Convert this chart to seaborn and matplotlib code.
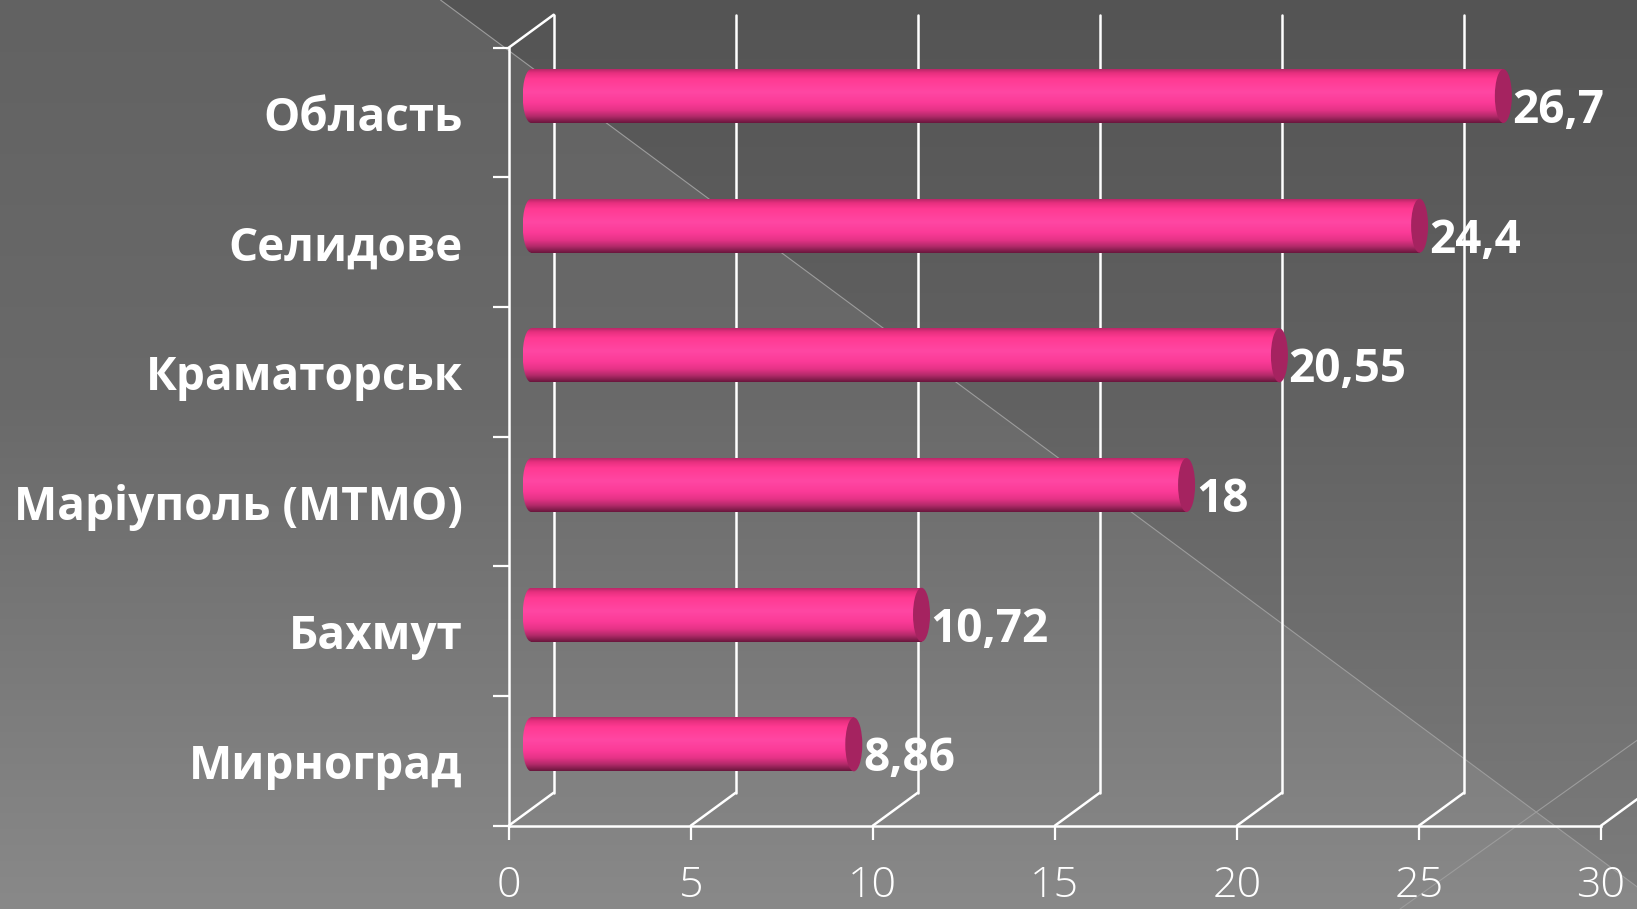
import numpy as np
import matplotlib.pyplot as plt
from matplotlib.patches import Ellipse
from matplotlib.colors import LinearSegmentedColormap
import seaborn as sns

categories = ["Область", "Селидове", "Краматорськ", "Маріуполь (МТМО)", "Бахмут", "Мирноград"]
values = [26.7, 24.4, 20.55, 18, 10.72, 8.86]
value_labels = [f"{v:g}".replace(".", ",") for v in values]
x_ticks = [0, 5, 10, 15, 20, 25, 30]

W, H, DPI = 1637, 909, 100
# front face of the 3D frame, pixels from top-left
AX_LEFT, AX_RIGHT, AX_TOP, AX_BOTTOM = 508.7, 1601.0, 47.7, 825.7
DEPTH_X, DEPTH_Y = 45.0, 33.0   # depth of the 3D box in px
CAP_RX = 8.5                    # half width of the cylinder caps in px
BAR_WIDTH = 0.416

sns.set_style("white")
plt.rcParams["font.family"] = ["Open Sans", "DejaVu Sans"]

fig = plt.figure(figsize=(W / DPI, H / DPI), dpi=DPI)

# --- background: grey gradient split by a diagonal ---
bg = fig.add_axes([0, 0, 1, 1], zorder=0)
yy, xx = np.mgrid[0:H, 0:W].astype(float)
t = yy / H
light = np.interp(t, [0, 0.45, 1], [0x62, 0x6a, 0x89])
dark = np.interp(t, [0, 0.45, 1], [0x54, 0x62, 0x7d])
grey = np.where(xx > 440.5 + 1.35 * yy, dark, light) / 255
bg.imshow(np.dstack([grey] * 3), extent=(0, W, H, 0), aspect="auto", interpolation="nearest")
bg.plot([440.5, 1667], [0, 909], color="#9c9c9c", lw=0.8)
bg.plot([1400, 1660], [909, 724], color="#9c9c9c", lw=0.8)
bg.set_xlim(0, W)
bg.set_ylim(H, 0)
bg.axis("off")

# --- chart ---
ax = fig.add_axes([AX_LEFT / W, 1 - AX_BOTTOM / H,
                   (AX_RIGHT - AX_LEFT) / W, (AX_BOTTOM - AX_TOP) / H], zorder=1)
ax.patch.set_alpha(0)
sns.barplot(x=values, y=categories, orient="h", width=BAR_WIDTH,
            color="#ff3a98", linewidth=0, ax=ax)

n = len(categories)
ux = (AX_RIGHT - AX_LEFT) / 30
uy = (AX_BOTTOM - AX_TOP) / n
dx, dy = DEPTH_X / ux, DEPTH_Y / uy
rx = CAP_RX / ux

# back wall gridlines + floor connectors
for xv in x_ticks:
    ax.plot([xv + dx, xv + dx], [n - 0.5 - dy, -0.5 - dy], color="white", lw=1.8,
            clip_on=False, zorder=1)
    ax.plot([xv, xv + dx], [n - 0.5, n - 0.5 - dy], color="white", lw=1.8,
            clip_on=False, zorder=1)
ax.plot([0, dx], [-0.5, -0.5 - dy], color="white", lw=1.8, clip_on=False, zorder=1)

# cylinder shading
cyl = LinearSegmentedColormap.from_list("cyl", [
    (0.0, "#b82868"), (0.07, "#e8307f"), (0.18, "#ff3a92"), (0.42, "#ff47a3"),
    (0.62, "#fb3b98"), (0.76, "#e63387"), (0.88, "#b22a69"), (1.0, "#6a173d")])
grad = cyl(np.linspace(0, 1, 128))[:, None, :3]
grad = np.repeat(grad, 2, axis=1)

for patch, label in zip(ax.patches, value_labels):
    x0, y0, w, h = patch.get_x(), patch.get_y(), patch.get_width(), patch.get_height()
    bx, by = x0 + dx / 2, y0 - dy / 2
    patch.set_x(bx)
    patch.set_y(by)
    patch.set_facecolor("none")
    left_end = Ellipse((bx, by + h / 2), 2 * rx, h, transform=ax.transData)
    for clip in (patch, left_end):
        im = ax.imshow(grad, extent=(bx - rx, bx + w, by + h, by), aspect="auto",
                       interpolation="bilinear", zorder=3)
        im.set_clip_path(clip)
    ax.add_patch(Ellipse((bx + w, by + h / 2), 2 * rx, h, facecolor="#a52360",
                         edgecolor="none", zorder=4, clip_on=False))
    ax.text(bx + w + rx + 0.02, by + h, label, color="white", fontsize=33,
            fontweight="bold", ha="left", va="baseline", zorder=5, clip_on=False)

ax.set_xlim(0, 30)
ax.set_ylim(n - 0.5, -0.5)

for side in ("top", "right"):
    ax.spines[side].set_visible(False)
for side in ("left", "bottom"):
    ax.spines[side].set_color("white")
    ax.spines[side].set_linewidth(1.8)
    ax.spines[side].set_zorder(2)

ax.set_xticks(x_ticks)
ax.set_xticklabels([str(v) for v in x_ticks])
ax.tick_params(axis="x", length=10, width=1.6, color="white", direction="out",
               pad=18, labelsize=31, labelcolor="white", bottom=True)
for lbl in ax.get_xticklabels():
    lbl.set_fontweight("light")

ax.set_yticks(np.arange(n))
ax.set_yticklabels(categories)
ax.tick_params(axis="y", which="major", length=0, pad=33, labelsize=33,
               labelcolor="white")
for lbl in ax.get_yticklabels():
    lbl.set_fontweight("bold")
ax.set_yticks(np.arange(-0.5, n), minor=True)
ax.tick_params(axis="y", which="minor", length=11.3, width=1.6, color="white",
               direction="out", left=True)
ax.set_xlabel("")
ax.set_ylabel("")

fig.savefig("out.png", dpi=DPI)
